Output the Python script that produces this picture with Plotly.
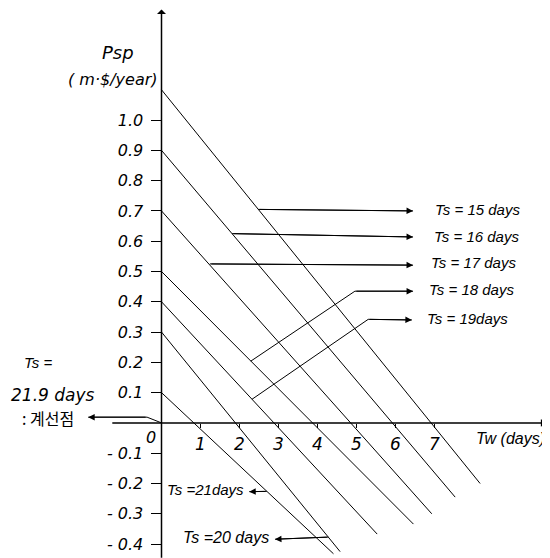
import plotly.graph_objects as go

# Ts (days) of each line, Psp at Tw = 0 and the lower right end of each line
ts_days = [15, 16, 17, 18, 19, 20, 21]
psp_start = [1.10, 0.90, 0.70, 0.50, 0.40, 0.30, 0.10]
tw_end = [8.17, 7.53, 6.93, 6.46, 5.53, 4.58, 4.41]
psp_end = [-0.200, -0.245, -0.300, -0.334, -0.367, -0.425, -0.432]

y_ticks = [1.0, 0.9, 0.8, 0.7, 0.6, 0.5, 0.4, 0.3, 0.2, 0.1, -0.1, -0.2, -0.3, -0.4]
y_ticktext = ["1.0", "0.9", "0.8", "0.7", "0.6", "0.5", "0.4", "0.3", "0.2", "0.1",
              "- 0.1", "- 0.2", "- 0.3", "- 0.4"]
x_ticks = [1, 2, 3, 4, 5, 6, 7]
x_ticktext = ["1", "2", "3", "4", "5", "6", "7"]

# leader lines, last point is the arrow tip
lead_x = {
    15: [2.48, 6.45],
    16: [1.81, 6.45],
    17: [1.24, 6.45],
    18: [2.29, 4.96, 6.45],
    19: [2.32, 5.30, 6.42],
    20: [4.28, 2.91],
    21: [2.70, 2.25],
    21.9: [0.0, -0.37, -1.88],
}
lead_y = {
    15: [0.705, 0.700],
    16: [0.625, 0.614],
    17: [0.525, 0.521],
    18: [0.204, 0.435, 0.435],
    19: [0.078, 0.342, 0.340],
    20: [-0.377, -0.384],
    21: [-0.226, -0.227],
    21.9: [0.0, 0.019, 0.019],
}

NUM = "DejaVu Sans"
TXT = "Liberation Sans"
KR = "Noto Sans CJK KR"

fig = go.Figure()

for i in range(len(ts_days)):
    fig.add_trace(go.Scatter(x=[0, tw_end[i]], y=[psp_start[i], psp_end[i]], mode="lines",
                             line=dict(color="black", width=1), hoverinfo="skip"))

annotations = []
for k in lead_x:
    xs, ys = lead_x[k], lead_y[k]
    fig.add_trace(go.Scatter(x=xs, y=ys, mode="lines", line=dict(color="black", width=1),
                             hoverinfo="skip"))
    annotations.append(dict(x=xs[-1], y=ys[-1], ax=xs[-2], ay=ys[-2], xref="x", yref="y",
                            axref="x", ayref="y", text="", showarrow=True, arrowhead=2,
                            arrowsize=1.3, arrowwidth=1, arrowcolor="black"))

# axes with arrows
annotations.append(dict(x=0, y=1.365, ax=0, ay=-0.45, xref="x", yref="y", axref="x", ayref="y",
                        text="", showarrow=True, arrowhead=1, arrowsize=1, arrowwidth=1.5,
                        arrowcolor="black"))
annotations.append(dict(x=9.92, y=0, ax=-1.3, ay=0, xref="x", yref="y", axref="x", ayref="y",
                        text="", showarrow=True, arrowhead=2, arrowsize=1, arrowwidth=1.5,
                        arrowcolor="black"))


def label(x, y, text, size=15, family=TXT, anchor="left", style="italic"):
    annotations.append(dict(x=x, y=y, xref="x", yref="y", text=text, showarrow=False,
                            xanchor=anchor, yanchor="middle",
                            font=dict(family=family, size=size, color="black", style=style)))


label(6.96, 0.706, "Ts = 15 days")
label(6.94, 0.615, "Ts = 16 days")
label(6.86, 0.529, "Ts = 17 days")
label(6.81, 0.441, "Ts = 18 days")
label(6.76, 0.345, "Ts = 19days")
label(2.16, -0.220, "Ts =21days", size=15, anchor="right")
label(2.80, -0.378, "Ts =20 days", size=16, anchor="right")
label(-3.58, 0.198, "Ts =", size=15)
label(-3.92, 0.092, "21.9 days", size=17, family=NUM)
label(-3.63, 0.016, ": 계선점", size=16, family=KR, style="normal")
label(-1.11, 1.222, "Psp", size=18, family=NUM, anchor="center")
label(-1.24, 1.135, "( m·$/year)", size=16, family=NUM, anchor="center")
label(9.88, -0.053, "Tw (days)", size=16, anchor="right")
annotations.append(dict(x=0, y=0, xref="x", yref="y", text="0", showarrow=False,
                        xanchor="right", yanchor="top", xshift=-4, yshift=-3,
                        font=dict(family=NUM, size=16, color="black", style="italic")))

# the page adds an 8px body margin, so the figure is 8px smaller and ranges are set for that
fig.update_layout(
    width=542, height=550,
    margin=dict(l=0, r=0, t=0, b=0),
    paper_bgcolor="white", plot_bgcolor="white",
    showlegend=False,
    annotations=annotations,
    xaxis=dict(range=[-3.936, 9.962], anchor="free", position=0.2456, showgrid=False,
               zeroline=False, showline=False, tickvals=x_ticks, ticktext=x_ticktext,
               ticks="outside", ticklen=4, tickcolor="black", ticklabelstandoff=2,
               tickfont=dict(family=NUM, size=17, color="black", style="italic"),
               automargin=False),
    yaxis=dict(range=[-0.446, 1.370], anchor="free", position=0.2832, showgrid=False,
               zeroline=False, showline=False, tickvals=y_ticks, ticktext=y_ticktext,
               ticks="outside", ticklen=10, tickcolor="black", ticklabelstandoff=5,
               tickfont=dict(family=NUM, size=16, color="black", style="italic"),
               automargin=False),
)

fig.write_html("out.html")
